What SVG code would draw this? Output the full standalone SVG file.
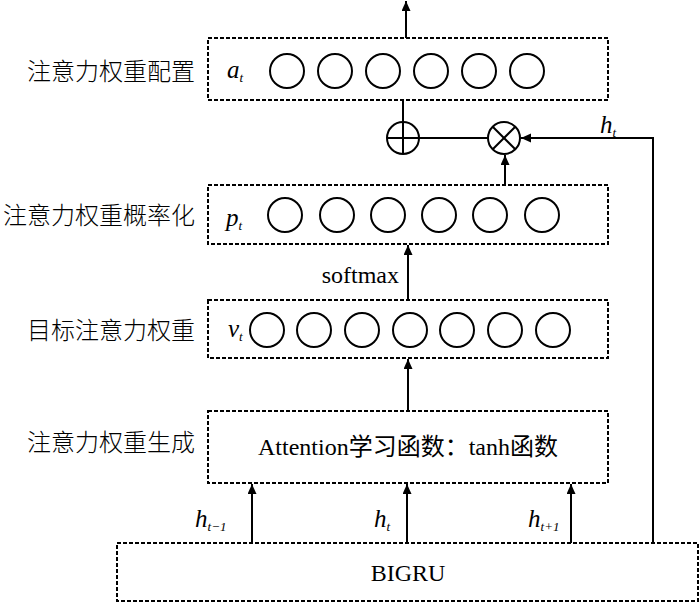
<svg xmlns="http://www.w3.org/2000/svg" width="700" height="603" viewBox="0 0 700 603">
<defs>
<style>
.box{fill:none;stroke:#000;stroke-width:2;stroke-dasharray:4 2}
.node{fill:none;stroke:#000;stroke-width:2}
.ln{fill:none;stroke:#000;stroke-width:2}
.arr{fill:none;stroke:#000;stroke-width:2;marker-end:url(#ah)}
.lbl{font-family:"Noto Sans CJK SC",sans-serif;font-size:24px;font-weight:300;fill:#000;text-anchor:end}
.tx{font-family:"Liberation Serif","Noto Sans CJK SC",serif;font-size:24px;fill:#000}
.var{font-family:"Liberation Serif",serif;font-style:italic;font-size:25px;fill:#000}
.sub{font-family:"Liberation Serif",serif;font-size:13px;fill:#000}
</style>
<marker id="ah" markerUnits="userSpaceOnUse" markerWidth="10" markerHeight="10" refX="10" refY="4.5" orient="auto">
<path d="M0,0 L10,4.5 L0,9 z" fill="#000"/>
</marker>
</defs>
<rect width="700" height="603" fill="#fff"/>

<g id="connectors">
<line class="arr" x1="406" y1="38" x2="406" y2="1"/>
<line class="ln" x1="403" y1="100" x2="403" y2="122"/>
<line class="ln" x1="419" y1="138" x2="488" y2="138"/>
<path class="arr" d="M653,543 V138 H521"/>
<line class="arr" x1="505" y1="185" x2="505" y2="155"/>
<line class="arr" x1="408" y1="300" x2="408" y2="245"/>
<line class="arr" x1="408" y1="411" x2="408" y2="359"/>
<line class="arr" x1="252" y1="543" x2="252" y2="484"/>
<line class="arr" x1="407" y1="543" x2="407" y2="484"/>
<line class="arr" x1="571" y1="543" x2="571" y2="484"/>
<text class="tx" x="399" y="283" text-anchor="end">softmax</text>
<text class="var" x="600" y="133">h<tspan class="sub" font-style="italic" dy="4">t</tspan></text>
<text class="var" x="195" y="527">h<tspan class="sub" dy="4"><tspan font-style="italic">t</tspan>−1</tspan></text>
<text class="var" x="374" y="527">h<tspan class="sub" font-style="italic" dy="4">t</tspan></text>
<text class="var" x="528" y="527">h<tspan class="sub" dy="4"><tspan font-style="italic">t</tspan>+1</tspan></text>
</g>

<g id="node-at">
<text class="lbl" x="195" y="80">注意力权重配置</text>
<rect class="box" x="208" y="38" width="400" height="62"/>
<text class="var" x="227" y="78">a<tspan class="sub" font-style="italic" dy="4">t</tspan></text>
<circle class="node" cx="287" cy="71" r="17"/>
<circle class="node" cx="335" cy="71" r="17"/>
<circle class="node" cx="383" cy="71" r="17"/>
<circle class="node" cx="431" cy="71" r="17"/>
<circle class="node" cx="479" cy="71" r="17"/>
<circle class="node" cx="527" cy="71" r="17"/>
</g>

<g id="node-plus">
<circle class="node" cx="403" cy="138" r="16"/>
<line class="ln" x1="403" y1="122" x2="403" y2="154"/>
<line class="ln" x1="387" y1="138" x2="419" y2="138"/>
</g>

<g id="node-times">
<circle class="node" cx="504" cy="138" r="16"/>
<line class="ln" x1="492.7" y1="126.7" x2="515.3" y2="149.3"/>
<line class="ln" x1="492.7" y1="149.3" x2="515.3" y2="126.7"/>
</g>

<g id="node-pt">
<text class="lbl" x="195" y="224">注意力权重概率化</text>
<rect class="box" x="208" y="185" width="400" height="59"/>
<text class="var" x="226" y="226">p<tspan class="sub" font-style="italic" dy="4">t</tspan></text>
<circle class="node" cx="285" cy="215" r="17"/>
<circle class="node" cx="337" cy="215" r="17"/>
<circle class="node" cx="388" cy="215" r="17"/>
<circle class="node" cx="439" cy="215" r="17"/>
<circle class="node" cx="490" cy="215" r="17"/>
<circle class="node" cx="542" cy="215" r="17"/>
</g>

<g id="node-vt">
<text class="lbl" x="195" y="339">目标注意力权重</text>
<rect class="box" x="208" y="300" width="400" height="58"/>
<text class="var" x="228" y="337">v<tspan class="sub" font-style="italic" dy="4">t</tspan></text>
<circle class="node" cx="267" cy="330" r="17"/>
<circle class="node" cx="314" cy="330" r="17"/>
<circle class="node" cx="362" cy="330" r="17"/>
<circle class="node" cx="410" cy="330" r="17"/>
<circle class="node" cx="457" cy="330" r="17"/>
<circle class="node" cx="505" cy="330" r="17"/>
<circle class="node" cx="553" cy="330" r="17"/>
</g>

<g id="node-attention">
<text class="lbl" x="195" y="451">注意力权重生成</text>
<rect class="box" x="208" y="411" width="400" height="72"/>
<text class="tx" x="408" y="455" text-anchor="middle">Attention学习函数：tanh函数</text>
</g>

<g id="node-bigru">
<rect class="box" x="117" y="543" width="581" height="58"/>
<text class="tx" x="408" y="581" text-anchor="middle">BIGRU</text>
</g>
</svg>
